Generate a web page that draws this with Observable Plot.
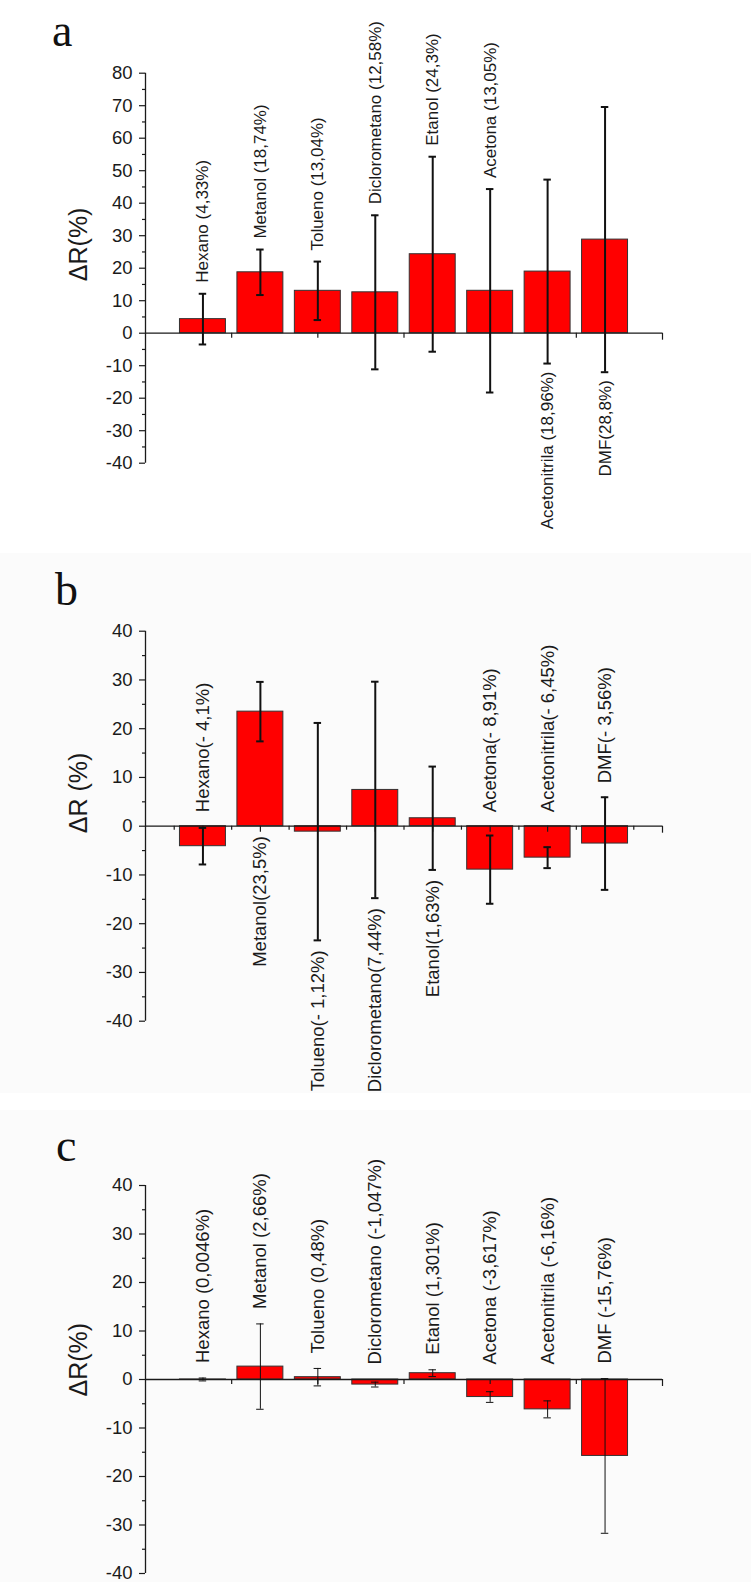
<!DOCTYPE html>
<html><head><meta charset="utf-8">
<script src="https://cdn.jsdelivr.net/npm/d3@7"></script>
<script src="https://cdn.jsdelivr.net/npm/@observablehq/plot@0.6"></script>
<style>
html,body{margin:0;padding:0;background:#fff;}
#wrap{position:relative;width:751px;height:1582px;overflow:hidden;font-family:"Liberation Sans",Arial,sans-serif;}
.panel{position:absolute;left:0;width:751px;overflow:hidden;}
.panel svg{position:absolute;left:0;top:0;overflow:visible;}
.letter{position:absolute;font-family:"Liberation Serif","Times New Roman",serif;font-size:46px;line-height:1;color:#111;z-index:2;}
</style></head>
<body><div id="wrap">
<div class="panel" id="pa" style="top:0;height:553px;background:#fff"><div class="letter" style="left:52px;top:8px">a</div></div>
<div class="panel" id="pb" style="top:553px;height:540px;background:#fbfbfb"><div class="letter" style="left:55px;top:14px">b</div></div>
<div class="panel" id="pc" style="top:1110px;height:472px;background:#fbfbfb"><div class="letter" style="left:56px;top:13px">c</div></div>
</div>
<script>
// ---------- data ----------
const categories = ["Hexano","Metanol","Tolueno","Diclorometano","Etanol","Acetona","Acetonitrila","DMF"];

const valuesA = [4.33, 18.74, 13.04, 12.58, 24.3, 13.05, 18.96, 28.8];
const errorsA = [7.8, 7.0, 9.0, 23.7, 30.0, 31.3, 28.3, 40.8];
const labelsA = ["Hexano (4,33%)","Metanol (18,74%)","Tolueno (13,04%)","Diclorometano (12,58%)","Etanol (24,3%)","Acetona (13,05%)","Acetonitrila (18,96%)","DMF(28,8%)"];
const sidesA  = ["above","above","above","above","above","above","below","below"];

const valuesB = [-4.1, 23.5, -1.12, 7.44, 1.63, -8.91, -6.45, -3.56];
const errorsB = [3.75, 6.1, 22.3, 22.2, 10.6, 7.0, 2.15, 9.5];
const labelsB = ["Hexano(- 4,1%)","Metanol(23,5%)","Tolueno(- 1,12%)","Diclorometano(7,44%)","Etanol(1,63%)","Acetona(- 8,91%)","Acetonitrila(- 6,45%)","DMF(- 3,56%)"];
const sidesB  = ["above","below","below","below","below","above","above","above"];

const valuesC = [0.0046, 2.66, 0.48, -1.047, 1.301, -3.617, -6.16, -15.76];
const errorsC = [0.3, 8.8, 1.8, 0.5, 0.7, 1.1, 1.75, 15.95];
const labelsC = ["Hexano (0,0046%)","Metanol (2,66%)","Tolueno (0,48%)","Diclorometano (-1,047%)","Etanol (1,301%)","Acetona (-3,617%)","Acetonitrila (-6,16%)","DMF (-15,76%)"];
const sidesC  = ["above","above","above","above","above","above","above","above"];

const yTicksA = [-40,-30,-20,-10,0,10,20,30,40,50,60,70,80];
const yTicksBC = [-40,-30,-20,-10,0,10,20,30,40];
const yTitles = ["ΔR(%)","ΔR (%)","ΔR(%)"];

// ---------- drawing ----------
const INK = "#1a1a1a";
function makePanel(o) {
  const rows = categories.map((c, i) => ({pos: i + 1, cat: c, value: o.values[i], err: o.errors[i], label: o.labels[i], side: o.sides[i]}));
  const minor = d3.pairs(o.yTicks).map(([a, b]) => (a + b) / 2);
  const nCat = categories.length;
  const capHalf = 0.065;
  const xTickMarks = o.xTicks.map(t => Plot.ruleX(t.at, {x: d => d, y1: 0, y2: 0, insetBottom: -t.len, stroke: INK, strokeWidth: 1.2}));
  return Plot.plot({
    width: 751, height: o.height,
    marginLeft: 145, marginRight: 89, marginTop: o.mt, marginBottom: o.mb,
    x: {domain: [0, nCat + 1], axis: null, label: null},
    y: {domain: [o.yTicks[0], o.yTicks[o.yTicks.length - 1]], axis: null, label: null},
    style: {background: "transparent", fontFamily: "'Liberation Sans', Arial, sans-serif", overflow: "visible", color: INK},
    marks: [
      Plot.rect(rows, {x1: d => d.pos - 0.4, x2: d => d.pos + 0.4, y1: 0, y2: "value", fill: "#ff0000", stroke: "#333", strokeWidth: 1}),
      Plot.ruleY([0], {stroke: INK, strokeWidth: 1.3}),
      Plot.ruleX([0], {stroke: INK, strokeWidth: 1.3}),
      ...xTickMarks,
      Plot.axisY({ticks: o.yTicks, tickSize: 6, tickPadding: 7, fontSize: 18.5, tickFormat: d => String(d), label: null, stroke: INK, fill: INK, strokeWidth: 1.2}),
      Plot.axisY({ticks: minor, tickSize: 3, tickFormat: () => "", label: null, stroke: INK, strokeWidth: 1.2}),
      Plot.ruleX(rows, {x: "pos", y1: d => d.value - d.err, y2: d => d.value + d.err, stroke: "#111", strokeWidth: o.errW}),
      Plot.ruleY(rows, {y: d => d.value + d.err, x1: d => d.pos - capHalf, x2: d => d.pos + capHalf, stroke: "#111", strokeWidth: o.errW}),
      Plot.ruleY(rows, {y: d => d.value - d.err, x1: d => d.pos - capHalf, x2: d => d.pos + capHalf, stroke: "#111", strokeWidth: o.errW}),
      Plot.text(rows.filter(d => d.side === "above"), {x: "pos", y: d => Math.max(d.value + d.err, 0), text: "label", rotate: -90, textAnchor: "start", dy: o.aboveDy, fontSize: o.labelSize, fill: INK}),
      Plot.text(rows.filter(d => d.side === "below"), {x: "pos", y: d => Math.min(d.value - d.err, 0), text: "label", rotate: -90, textAnchor: "end", dy: o.belowDy, fontSize: o.labelSize, fill: INK}),
      Plot.text([o.title], {text: d => d, frameAnchor: "left", rotate: -90, dx: -67, dy: o.titleDy, fontSize: 25, fill: INK})
    ]
  });
}

const ticksEvery15 = [{at: [1.5, 3, 4.5, 6, 7.5], len: 5}, {at: [9], len: 7}];
const ticksB = [{at: d3.range(0.5, 9, 1), len: 4}, {at: d3.range(1, 9, 1), len: 6}, {at: [9], len: 7}];

document.getElementById("pa").append(makePanel({
  height: 553, mt: 72.7, mb: 90.3, yTicks: yTicksA,
  values: valuesA, errors: errorsA, labels: labelsA, sides: sidesA,
  errW: 2, labelSize: 17, aboveDy: -11, belowDy: 8, title: yTitles[0], titleDy: 13, xTicks: ticksEvery15
}));
document.getElementById("pb").append(makePanel({
  height: 540, mt: 77.7, mb: 72.3, yTicks: yTicksBC,
  values: valuesB, errors: errorsB, labels: labelsB, sides: sidesB,
  errW: 2, labelSize: 18.5, aboveDy: -14, belowDy: 10, title: yTitles[1], titleDy: 7, xTicks: ticksB
}));
document.getElementById("pc").append(makePanel({
  height: 472, mt: 75, mb: 9, yTicks: yTicksBC,
  values: valuesC, errors: errorsC, labels: labelsC, sides: sidesC,
  errW: 1, labelSize: 18.5, aboveDy: -15, belowDy: 10, title: yTitles[2], titleDy: 17, xTicks: ticksEvery15
}));
</script>
</body></html>
